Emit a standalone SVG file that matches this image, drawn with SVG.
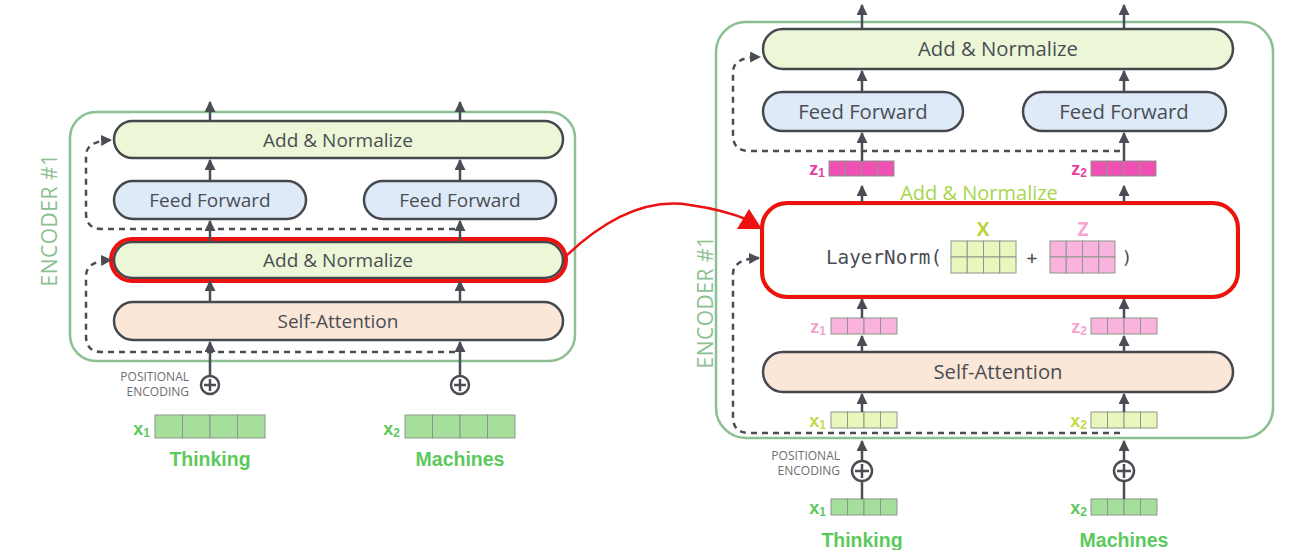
<svg xmlns="http://www.w3.org/2000/svg" width="1304" height="550" viewBox="0 0 1304 550">
<defs>
<marker id="ah" viewBox="0 0 10 10" refX="9" refY="5" markerWidth="11" markerHeight="11" markerUnits="userSpaceOnUse" orient="auto">
<path d="M0,0 L10,5 L0,10 z" fill="#4a4e54"/>
</marker>
<style>
.cont{fill:none;stroke:#8cbf92;stroke-width:2.5}
.box{stroke:#45494e;stroke-width:2.5}
.an{fill:#ebf7d6}
.ff{fill:#dfeaf8}
.sa{fill:#fbe7d8}
.lbl{font-family:"Open Sans","Liberation Sans",sans-serif;font-size:19px;fill:#4a4e54;text-anchor:middle}
.lblb{font-family:"Open Sans","Liberation Sans",sans-serif;font-size:20.3px;fill:#4a4e54;text-anchor:middle}
.enc{font-family:"Open Sans","Liberation Sans",sans-serif;font-size:21px;fill:#8cbf92;text-anchor:middle;letter-spacing:0.5px}
.arr{stroke:#4a4e54;stroke-width:2.5;fill:none;marker-end:url(#ah)}
.ln{stroke:#4a4e54;stroke-width:2.5;fill:none}
.dash{stroke:#4a4e54;stroke-width:2.5;fill:none;stroke-dasharray:6 5;marker-end:url(#ah)}
.pos{font-family:"Open Sans","Liberation Sans",sans-serif;font-size:12px;fill:#6a6e73;text-anchor:end}
.plus{fill:#fff;stroke:#4a4e54;stroke-width:2.5}
.word{font-family:"Liberation Sans",Arial,sans-serif;font-weight:bold;font-size:19.5px;fill:#5dc95d;text-anchor:middle}
.vl{font-family:"Liberation Sans",Arial,sans-serif;font-weight:bold;font-size:18px;text-anchor:end}
.sub{font-size:12px}
.cell{stroke:#8d968c;stroke-width:1}
.g{fill:#a6df9c;fill-opacity:1}
.yg{fill:#eaf7bc}
.pk{fill:#f9b3dc}
.hp{fill:#f04fb4}
.red{fill:none;stroke:#ee1111;stroke-width:4}
</style>
</defs>

<!-- LEFT ENCODER -->
<g id="left-encoder">
<rect class="cont" x="70" y="112" width="505" height="249" rx="26"/>
<text class="enc" transform="translate(57,220) rotate(-90)">ENCODER #1</text>
</g>
<g id="l-addnorm-top">
<rect class="box an" x="114" y="121" width="449" height="37" rx="18.5"/>
<text class="lbl" x="338" y="146.5">Add &amp; Normalize</text>
</g>
<g id="l-ff1">
<rect class="box ff" x="114" y="181" width="192" height="38" rx="19"/>
<text class="lbl" x="210" y="206.5">Feed Forward</text>
</g>
<g id="l-ff2">
<rect class="box ff" x="364" y="181" width="192" height="38" rx="19"/>
<text class="lbl" x="460" y="206.5">Feed Forward</text>
</g>
<g id="l-addnorm-mid">
<rect class="box an" x="114" y="242" width="449" height="36" rx="18"/>
<text class="lbl" x="338" y="266.5">Add &amp; Normalize</text>
<rect class="red" x="111" y="239" width="455" height="42" rx="21"/>
</g>
<g id="l-selfatt">
<rect class="box sa" x="114" y="302" width="449" height="38" rx="19"/>
<text class="lbl" x="338" y="327.5">Self-Attention</text>
</g>
<g id="l-pos1">
<circle class="plus" cx="210" cy="385" r="9"/>
<path class="ln" d="M204,385 H216 M210,379 V391" stroke-width="2"/>
<text class="pos" x="189" y="381">POSITIONAL</text>
<text class="pos" x="189" y="395.5">ENCODING</text>
</g>
<g id="l-pos2">
<circle class="plus" cx="460" cy="385" r="9"/>
<path class="ln" d="M454,385 H466 M460,379 V391" stroke-width="2"/>
</g>
<g id="l-x1">
<rect class="cell g" x="155" y="415" width="27.5" height="23"/>
<rect class="cell g" x="182.5" y="415" width="27.5" height="23"/>
<rect class="cell g" x="210" y="415" width="27.5" height="23"/>
<rect class="cell g" x="237.5" y="415" width="27.5" height="23"/>
<text class="vl" x="150" y="435" fill="#5dc95d">x<tspan class="sub" dy="2">1</tspan></text>
<text class="word" x="210" y="466">Thinking</text>
</g>
<g id="l-x2">
<rect class="cell g" x="405" y="415" width="27.5" height="23"/>
<rect class="cell g" x="432.5" y="415" width="27.5" height="23"/>
<rect class="cell g" x="460" y="415" width="27.5" height="23"/>
<rect class="cell g" x="487.5" y="415" width="27.5" height="23"/>
<text class="vl" x="400" y="435" fill="#5dc95d">x<tspan class="sub" dy="2">2</tspan></text>
<text class="word" x="460" y="466">Machines</text>
</g>

<!-- RIGHT ENCODER -->
<g id="right-encoder">
<rect class="cont" x="716" y="22" width="557" height="416" rx="30"/>
<text class="enc" transform="translate(713,302) rotate(-90)" font-size="22">ENCODER #1</text>
</g>
<g id="r-addnorm-top">
<rect class="box an" x="763" y="29" width="470" height="40" rx="20"/>
<text class="lblb" x="998" y="56">Add &amp; Normalize</text>
</g>
<g id="r-ff1">
<rect class="box ff" x="763" y="92" width="200" height="39" rx="19.5"/>
<text class="lblb" x="863" y="118.5">Feed Forward</text>
</g>
<g id="r-ff2">
<rect class="box ff" x="1023" y="92" width="203" height="39" rx="19.5"/>
<text class="lblb" x="1124" y="118.5">Feed Forward</text>
</g>
<g id="r-z1-top">
<rect class="cell hp" x="829" y="161" width="16.25" height="15"/>
<rect class="cell hp" x="845.25" y="161" width="16.25" height="15"/>
<rect class="cell hp" x="861.5" y="161" width="16.25" height="15"/>
<rect class="cell hp" x="877.75" y="161" width="16.25" height="15"/>
<text class="vl" x="825" y="175" fill="#e8409f">z<tspan class="sub" dy="2">1</tspan></text>
</g>
<g id="r-z2-top">
<rect class="cell hp" x="1091" y="161" width="16.25" height="15"/>
<rect class="cell hp" x="1107.25" y="161" width="16.25" height="15"/>
<rect class="cell hp" x="1123.5" y="161" width="16.25" height="15"/>
<rect class="cell hp" x="1139.75" y="161" width="16.25" height="15"/>
<text class="vl" x="1087" y="175" fill="#e8409f">z<tspan class="sub" dy="2">2</tspan></text>
</g>
<g id="r-layernorm">
<text x="979" y="200" font-family="Open Sans, Liberation Sans, sans-serif" font-size="20" fill="#a8d64a" text-anchor="middle">Add &amp; Normalize</text>
<rect x="763" y="204" width="474" height="92" rx="24" fill="#fff" stroke="#b9d640" stroke-width="2.5"/>
<rect class="red" x="762" y="203" width="476" height="94" rx="25" stroke-width="5"/>
<text x="826" y="264" font-family="DejaVu Sans Mono, Liberation Mono, monospace" font-size="19.3" fill="#4a4e54">LayerNorm(</text>
<text x="983" y="236" font-family="Open Sans, Liberation Sans, sans-serif" font-size="19" font-weight="bold" fill="#b9d640" text-anchor="middle">X</text>
<g class="cell yg">
<rect x="951" y="241" width="16.25" height="16"/><rect x="967.25" y="241" width="16.25" height="16"/><rect x="983.5" y="241" width="16.25" height="16"/><rect x="999.75" y="241" width="16.25" height="16"/>
<rect x="951" y="257" width="16.25" height="16"/><rect x="967.25" y="257" width="16.25" height="16"/><rect x="983.5" y="257" width="16.25" height="16"/><rect x="999.75" y="257" width="16.25" height="16"/>
</g>
<text x="1032" y="264" font-family="DejaVu Sans Mono, Liberation Mono, monospace" font-size="18" fill="#4a4e54" text-anchor="middle">+</text>
<text x="1083" y="236" font-family="Open Sans, Liberation Sans, sans-serif" font-size="19" font-weight="bold" fill="#f4a6cf" text-anchor="middle">Z</text>
<g class="cell pk">
<rect x="1050" y="241" width="16.25" height="16"/><rect x="1066.25" y="241" width="16.25" height="16"/><rect x="1082.5" y="241" width="16.25" height="16"/><rect x="1098.75" y="241" width="16.25" height="16"/>
<rect x="1050" y="257" width="16.25" height="16"/><rect x="1066.25" y="257" width="16.25" height="16"/><rect x="1082.5" y="257" width="16.25" height="16"/><rect x="1098.75" y="257" width="16.25" height="16"/>
</g>
<text x="1127" y="264" font-family="DejaVu Sans Mono, Liberation Mono, monospace" font-size="18" fill="#4a4e54" text-anchor="middle">)</text>
</g>
<g id="r-z1">
<rect class="cell pk" x="831" y="318" width="16.5" height="16"/>
<rect class="cell pk" x="847.5" y="318" width="16.5" height="16"/>
<rect class="cell pk" x="864" y="318" width="16.5" height="16"/>
<rect class="cell pk" x="880.5" y="318" width="16.5" height="16"/>
<text class="vl" x="826" y="333" fill="#f5a3cf">z<tspan class="sub" dy="2">1</tspan></text>
</g>
<g id="r-z2">
<rect class="cell pk" x="1091" y="318" width="16.5" height="16"/>
<rect class="cell pk" x="1107.5" y="318" width="16.5" height="16"/>
<rect class="cell pk" x="1124" y="318" width="16.5" height="16"/>
<rect class="cell pk" x="1140.5" y="318" width="16.5" height="16"/>
<text class="vl" x="1087" y="333" fill="#f5a3cf">z<tspan class="sub" dy="2">2</tspan></text>
</g>
<g id="r-selfatt">
<rect class="box sa" x="763" y="352" width="470" height="40" rx="20"/>
<text class="lblb" x="998" y="379">Self-Attention</text>
</g>
<g id="r-x1">
<rect class="cell yg" x="831" y="412" width="16.5" height="16"/>
<rect class="cell yg" x="847.5" y="412" width="16.5" height="16"/>
<rect class="cell yg" x="864" y="412" width="16.5" height="16"/>
<rect class="cell yg" x="880.5" y="412" width="16.5" height="16"/>
<text class="vl" x="826" y="427" fill="#c3d94a">x<tspan class="sub" dy="2">1</tspan></text>
</g>
<g id="r-x2">
<rect class="cell yg" x="1091" y="412" width="16.5" height="16"/>
<rect class="cell yg" x="1107.5" y="412" width="16.5" height="16"/>
<rect class="cell yg" x="1124" y="412" width="16.5" height="16"/>
<rect class="cell yg" x="1140.5" y="412" width="16.5" height="16"/>
<text class="vl" x="1087" y="427" fill="#c3d94a">x<tspan class="sub" dy="2">2</tspan></text>
</g>
<g id="r-pos1">
<circle class="plus" cx="862" cy="471" r="10"/>
<path class="ln" d="M855,471 H869 M862,464 V478" stroke-width="2"/>
<text class="pos" x="840" y="459.5" font-size="12.5">POSITIONAL</text>
<text class="pos" x="840" y="474.5" font-size="12.5">ENCODING</text>
</g>
<g id="r-pos2">
<circle class="plus" cx="1124" cy="471" r="10"/>
<path class="ln" d="M1117,471 H1131 M1124,464 V478" stroke-width="2"/>
</g>
<g id="r-in1">
<rect class="cell g" x="831" y="499" width="16.5" height="16"/>
<rect class="cell g" x="847.5" y="499" width="16.5" height="16"/>
<rect class="cell g" x="864" y="499" width="16.5" height="16"/>
<rect class="cell g" x="880.5" y="499" width="16.5" height="16"/>
<text class="vl" x="826" y="514" fill="#5dc95d">x<tspan class="sub" dy="2">1</tspan></text>
<text class="word" x="862" y="547" font-size="20.5">Thinking</text>
</g>
<g id="r-in2">
<rect class="cell g" x="1091" y="499" width="16.5" height="16"/>
<rect class="cell g" x="1107.5" y="499" width="16.5" height="16"/>
<rect class="cell g" x="1124" y="499" width="16.5" height="16"/>
<rect class="cell g" x="1140.5" y="499" width="16.5" height="16"/>
<text class="vl" x="1087" y="514" fill="#5dc95d">x<tspan class="sub" dy="2">2</tspan></text>
<text class="word" x="1124" y="547" font-size="20.5">Machines</text>
</g>

<!-- CONNECTORS -->
<g id="connectors">
<!-- left -->
<path class="arr" d="M210,121 V102"/>
<path class="arr" d="M460,121 V102"/>
<path class="arr" d="M210,181 V160"/>
<path class="arr" d="M460,181 V160"/>
<path class="arr" d="M210,242 V221"/>
<path class="arr" d="M460,242 V221"/>
<path class="arr" d="M210,302 V281"/>
<path class="arr" d="M460,302 V281"/>
<path class="arr" d="M210,376 V342"/>
<path class="arr" d="M460,376 V342"/>
<path class="dash" d="M455,229 H102 Q86,229 86,213 V156 Q86,141 111,140"/>
<path class="dash" d="M455,352 H102 Q86,352 86,336 V276 Q86,261 111,260"/>
<!-- right -->
<path class="arr" d="M862,29 V5"/>
<path class="arr" d="M1124,29 V5"/>
<path class="arr" d="M862,92 V71"/>
<path class="arr" d="M1124,92 V71"/>
<path class="arr" d="M862,161 V133"/>
<path class="arr" d="M1124,161 V133"/>
<path class="arr" d="M862,202 V186"/>
<path class="arr" d="M1124,202 V186"/>
<path class="arr" d="M862,318 V299"/>
<path class="arr" d="M1124,318 V299"/>
<path class="arr" d="M862,352 V336"/>
<path class="arr" d="M1124,352 V336"/>
<path class="arr" d="M862,412 V394"/>
<path class="arr" d="M1124,412 V394"/>
<path class="arr" d="M862,461 V441"/>
<path class="arr" d="M1124,461 V441"/>
<path class="ln" d="M862,481 V499"/>
<path class="ln" d="M1124,481 V499"/>
<path class="dash" d="M1120,151 H749 Q733,151 733,135 V72 Q733,57 760,57"/>
<path class="dash" d="M1120,433 H749 Q733,433 733,417 V274 Q733,259 759,258"/>
<!-- red highlight arrow -->
<path d="M565,257 Q630,195 690,205 Q725,210 748,220" fill="none" stroke="#ee1111" stroke-width="2.5"/>
<path d="M749,209 L737,229 L762,229 z" fill="#ee1111"/>
</g>
</svg>
